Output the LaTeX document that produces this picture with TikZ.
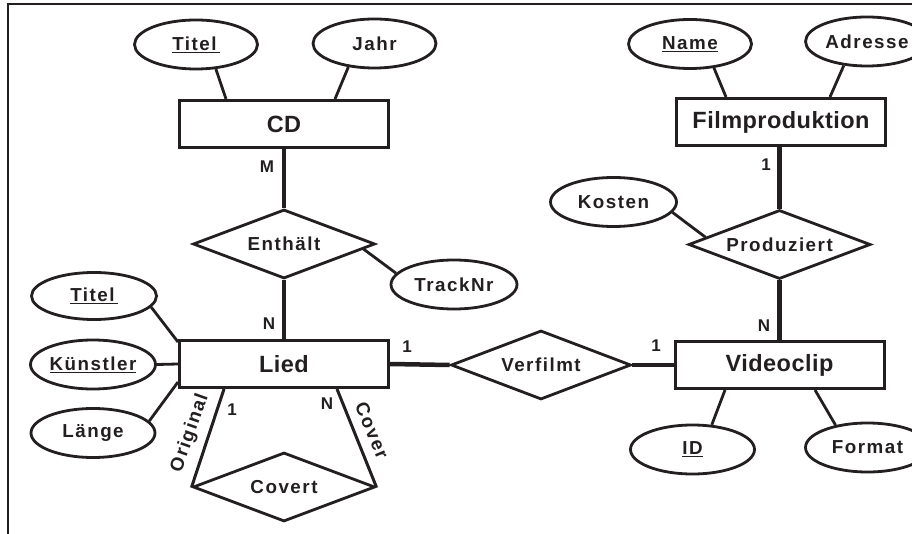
\documentclass[tikz,border=0pt]{standalone}
\usepackage{fontspec}
\setmainfont{Liberation Sans}
\newfontfamily\entf{Liberation Sans}[LetterSpace=2]
\newfontfamily\attf{Liberation Sans}[LetterSpace=8]
\usetikzlibrary{shapes.geometric,calc}
\definecolor{ink}{RGB}{35,31,32}
\begin{document}
\begin{tikzpicture}[x=1pt,y=-1pt,
  entity/.style={draw=ink,line width=3pt,minimum width=209pt,minimum height=47pt,inner sep=0pt,
    font=\entf\bfseries\fontsize{23.5}{26}\selectfont,text=ink},
  attr/.style={ellipse,draw=ink,line width=2.8pt,minimum width=123pt,minimum height=49pt,inner sep=0pt,
    font=\attf\bfseries\fontsize{18.8}{22}\selectfont,text=ink},
  rel/.style={diamond,aspect=2.6,draw=ink,line width=2.8pt,minimum width=182pt,minimum height=69pt,inner sep=0pt,
    font=\attf\bfseries\fontsize{18.8}{22}\selectfont,text=ink},
  card/.style={font=\bfseries\fontsize{17}{20}\selectfont,text=ink,inner sep=0pt},
  role/.style={font=\attf\bfseries\fontsize{18.8}{22}\selectfont,text=ink,inner sep=0pt},
  link/.style={draw=ink,line width=2.8pt},
  strong/.style={draw=ink,line width=4.5pt},
]
\useasboundingbox (0,0) rectangle (912,534);
\clip (0,0) rectangle (912,534);
\draw[ink,line width=1.5pt] (8,4) rectangle (1000,600);

% entities
\node[entity] (cd) at (284,124) {CD};
\node[entity] (lied) at (284,364) {Lied};
\node[entity] (video) at (779.5,365) {Videoclip};
\node[entity] (film) at (781,122) {Filmproduktion};

% relationships
\node[rel] (enth) at (284,244) {Enthält};
\node[rel] (covert) at (284,487) {Covert};
\node[rel,minimum width=180pt] (verf) at (541,365) {Verfilmt};
\node[rel] (prod) at (779.5,244.5) {Produziert};

% attributes
\node[attr] (t1) at (196,44.5) {\underline{Titel\,}};
\node[attr] (jahr) at (374.5,43.5) {Jahr};
\node[attr,minimum width=126pt] (track) at (454,284.5) {TrackNr};
\node[attr,minimum width=125pt,minimum height=47pt] (t2) at (94,296) {\underline{Titel\,}};
\node[attr,minimum width=125pt] (kuen) at (93,364.5) {\underline{Künstler}};
\node[attr,minimum width=124pt] (laenge) at (93,433) {Länge};
\node[attr] (name) at (690,44) {\underline{Name}};
\node[attr] (adr) at (867,41.5) {Adresse};
\node[attr,minimum width=126pt] (kosten) at (613.5,202) {Kosten};
\node[attr,minimum width=124pt] (id) at (692.5,449.5) {\underline{ID}};
\node[attr,minimum width=124pt] (format) at (867.5,447.5) {Format};

% attribute links
\draw[link] (t1.-51) -- ($(cd.north)+(-58,0)$);
\draw[link] (jahr.-138) -- ($(cd.north)+(51,0)$);
\draw[link] ($(enth.east)!0.14!(enth.south)$) -- (track.169);
\draw[link] (t2.-11) -- ($(lied.north west)+(0,3)$);
\draw[link] (kuen.east) -- (lied.west);
\draw[link] (laenge.12) -- ($(lied.south west)+(0,-7)$);
\draw[link] (name.-45) -- ($(film.north)+(-55,0)$);
\draw[link] (adr.-134) -- ($(film.north)+(49,0)$);
\draw[link] (kosten.-10) -- ($(prod.west)!0.2!(prod.north)$);
\draw[link] (id.52) -- ($(video.south)+(-54.5,0)$);
\draw[link] (format.145) -- ($(video.south)+(35.5,0)$);

% relationship links
\draw[strong] (cd.south) -- (enth.north);
\draw[strong] (enth.south) -- (lied.north);
\draw[strong] (lied.east) -- (verf.west);
\draw[strong] (verf.east) -- (video.west);
\draw[strong] (prod.north) -- (prod.north |- film.south);
\draw[strong] (prod.south) -- (video.north);
\draw[link,line width=3pt] ($(lied.south)+(-60,0)$) -- (covert.west);
\draw[link,line width=3pt] ($(lied.south)+(53,0)$) -- (covert.east);

% cardinalities
\node[card] (cm) at (267,167) {M};
\node[card] (cn1) at (269,324) {N};
\node[card] (c1o) at (232,410) {1};
\node[card] (cnc) at (327,404) {N};
\node[card] (c1l) at (407,347) {1};
\node[card] (c1v) at (656,346) {1};
\node[card] (cnv) at (764,326) {N};
\node[card] (c1f) at (766,165) {1};

% roles
\node[role,rotate=70.6] (orig) at (190,433) {Original};
\node[role,rotate=-67.3] (cover) at (372,430) {Cover};
\end{tikzpicture}
\end{document}
